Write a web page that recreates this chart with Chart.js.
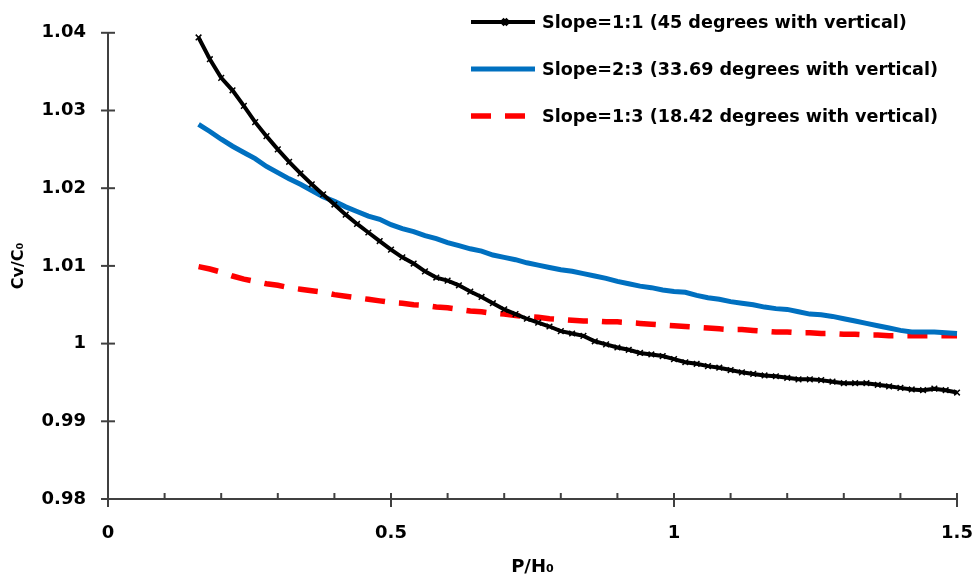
<!DOCTYPE html>
<html>
<head>
<meta charset="utf-8">
<script src="https://cdn.jsdelivr.net/npm/chart.js@4.4.1/dist/chart.umd.min.js"></script>
<style>
html,body{margin:0;padding:0;background:#fff;}
#wrap{width:973px;height:583px;position:relative;}
</style>
</head>
<body>
<div id="wrap"><canvas id="c"></canvas></div>
<script>
// ---- data ----
const pH = [0.16,0.18,0.20,0.22,0.24,0.26,0.28,0.30,0.32,0.34,0.36,0.38,0.40,0.42,0.44,0.46,0.48,0.50,
  0.52,0.54,0.56,0.58,0.60,0.62,0.64,0.66,0.68,0.70,0.72,0.74,0.76,0.78,0.80,0.82,0.84,0.86,0.88,0.90,
  0.92,0.94,0.96,0.98,1.00,1.02,1.04,1.06,1.08,1.10,1.12,1.14,1.16,1.18,1.20,1.22,1.24,1.26,1.28,1.30,
  1.32,1.34,1.36,1.38,1.40,1.42,1.44,1.46,1.48,1.50];

const slope11 = [1.0394,1.0366,1.0342,1.0326,1.0306,1.0285,1.0267,1.0250,1.0234,1.0219,1.0205,1.0192,1.0179,1.0166,1.0154,1.0143,1.0132,1.0121,
  1.0111,1.0103,1.0093,1.0085,1.0081,1.0075,1.0067,1.0060,1.0052,1.0044,1.0038,1.0032,1.0027,1.0022,1.0016,1.0013,1.0010,1.0003,0.9999,0.9995,
  0.9992,0.9988,0.9986,0.9984,0.9980,0.9976,0.9974,0.9971,0.9969,0.9966,0.9963,0.9961,0.9959,0.9958,0.9956,0.9954,0.9954,0.9953,0.9951,0.9949,
  0.9949,0.9949,0.9947,0.9945,0.9943,0.9941,0.9940,0.9942,0.9940,0.9937];

const slope23 = [1.0282,1.0273,1.0263,1.0254,1.0246,1.0238,1.0228,1.0220,1.0212,1.0205,1.0197,1.0189,1.0183,1.0176,1.0170,1.0164,1.0160,1.0153,
  1.0148,1.0144,1.0139,1.0135,1.0130,1.0126,1.0122,1.0119,1.0114,1.0111,1.0108,1.0104,1.0101,1.0098,1.0095,1.0093,1.0090,1.0087,1.0084,1.0080,
  1.0077,1.0074,1.0072,1.0069,1.0067,1.0066,1.0062,1.0059,1.0057,1.0054,1.0052,1.0050,1.0047,1.0045,1.0044,1.0041,1.0038,1.0037,1.0035,1.0032,
  1.0029,1.0026,1.0023,1.0020,1.0017,1.0015,1.0015,1.0015,1.0014,1.0013];

const slope13 = [1.0099,1.0096,1.0092,1.0087,1.0083,1.0080,1.0077,1.0075,1.0072,1.0070,1.0068,1.0066,1.0063,1.0061,1.0059,1.0057,1.0055,1.0053,
  1.0052,1.0050,1.0049,1.0047,1.0046,1.0044,1.0042,1.0041,1.0039,1.0038,1.0036,1.0035,1.0034,1.0032,1.0031,1.0030,1.0029,1.0029,1.0028,1.0028,
  1.0027,1.0026,1.0025,1.0024,1.0023,1.0022,1.0021,1.0020,1.0019,1.0018,1.0018,1.0017,1.0016,1.0015,1.0015,1.0014,1.0014,1.0013,1.0013,1.0012,
  1.0012,1.0011,1.0011,1.0010,1.0010,1.0010,1.0010,1.0010,1.0010,1.0010];

const seriesLabels = [
  'Slope=1:1 (45 degrees with vertical)',
  'Slope=2:3 (33.69 degrees with vertical)',
  'Slope=1:3 (18.42 degrees with vertical)'
];
const xTicks = [0, 0.5, 1, 1.5];
const xTickLabels = ['0', '0.5', '1', '1.5'];
const xMinorTicks = [0.1,0.2,0.3,0.4,0.6,0.7,0.8,0.9,1.1,1.2,1.3,1.4];
const yTicks = [0.98, 0.99, 1, 1.01, 1.02, 1.03, 1.04];
const yTickLabels = ['0.98', '0.99', '1', '1.01', '1.02', '1.03', '1.04'];
const xTitle = 'P/H\u2080';
const yTitle = 'Cv/C\u2080';

// ---- helpers ----
const FONT = "'DejaVu Sans', sans-serif";
const AXIS_COLOR = '#404040';
const toPts = ys => pH.map((x, i) => ({x: x, y: ys[i]}));

const axisTicksPlugin = {
  id: 'axisTicks',
  beforeDatasetsDraw(chart) {
    const {ctx, scales: {x, y}} = chart;
    ctx.save();
    ctx.strokeStyle = AXIS_COLOR;
    ctx.lineWidth = 2;
    const line = (x1, y1, x2, y2) => { ctx.beginPath(); ctx.moveTo(x1, y1); ctx.lineTo(x2, y2); ctx.stroke(); };
    const ax = x.left, ay = y.bottom;
    yTicks.forEach(v => { const py = y.getPixelForValue(v); line(ax - 7, py, ax + 7, py); });
    xMinorTicks.forEach(v => { const px = x.getPixelForValue(v); line(px, ay, px, ay - 6); });
    xTicks.forEach(v => { const px = x.getPixelForValue(v); line(px, ay - 6, px, ay + 8); });
    ctx.restore();
  }
};

const legendPlugin = {
  id: 'insideLegend',
  afterDraw(chart) {
    const ctx = chart.ctx;
    const rows = [22, 69, 116];
    const x1 = 471, x2 = 535, tx = 542;
    ctx.save();
    chart.data.datasets.forEach((ds, i) => {
      const yy = rows[i];
      ctx.strokeStyle = ds.borderColor;
      ctx.lineWidth = ds.borderWidth;
      ctx.setLineDash(ds.borderDash || []);
      ctx.lineCap = 'butt';
      ctx.beginPath();
      ctx.moveTo(x1, yy); ctx.lineTo(x2, yy); ctx.stroke();
      ctx.setLineDash([]);
      if (ds.pointRadius > 0) {
        Chart.helpers.drawPoint(ctx, {pointStyle: ds.pointStyle, rotation: 0, radius: ds.pointRadius, borderWidth: ds.pointBorderWidth}, (x1 + x2) / 2 + 2, yy);
      }
      ctx.fillStyle = '#000';
      ctx.font = "bold 17.6px " + FONT;
      ctx.textBaseline = 'middle';
      ctx.textAlign = 'left';
      ctx.fillText(ds.label, tx, yy + 1);
    });
    ctx.restore();
  }
};

const ctx = document.getElementById('c').getContext('2d');
new Chart(ctx, {
  type: 'line',
  data: {
    datasets: [
      {
        label: seriesLabels[0], data: toPts(slope11),
        borderColor: '#000000', backgroundColor: '#000000', borderWidth: 4,
        pointStyle: 'crossRot', pointRadius: 4, pointBorderWidth: 1.5,
        pointBorderColor: '#000000', pointBackgroundColor: '#000000',
        tension: 0, fill: false, clip: 10
      },
      {
        label: seriesLabels[1], data: toPts(slope23),
        borderColor: '#0070C0', backgroundColor: '#0070C0', borderWidth: 5,
        pointRadius: 0, tension: 0, fill: false, clip: 10
      },
      {
        label: seriesLabels[2], data: toPts(slope13),
        borderColor: '#FF0000', backgroundColor: '#FF0000', borderWidth: 5.5,
        borderDash: [20, 14], pointRadius: 0, tension: 0, fill: false, clip: 10
      }
    ]
  },
  options: {
    responsive: true,
    maintainAspectRatio: false,
    animation: false,
    devicePixelRatio: 1,
    layout: { padding: { top: 19, right: 0, left: 0, bottom: 0 } },
    plugins: { legend: { display: false }, tooltip: { enabled: false } },
    scales: {
      x: {
        type: 'linear', min: 0, max: 1.5,
        afterBuildTicks: s => { s.ticks = xTicks.map(v => ({value: v})); },
        afterFit: s => { s.height = 84; s.paddingRight = 16; s.paddingLeft = 0; },
        ticks: {
          padding: 24, color: '#000',
          font: { family: FONT, size: 18, weight: 'bold' },
          callback: v => { const i = xTicks.findIndex(t => Math.abs(t - v) < 1e-9); return i >= 0 ? xTickLabels[i] : ''; },
          maxRotation: 0, autoSkip: false
        },
        grid: { display: true, drawOnChartArea: false, drawTicks: false },
        border: { display: true, color: AXIS_COLOR, width: 2 },
        title: { display: true, text: xTitle, color: '#000', font: { family: FONT, size: 18, weight: 'bold' }, padding: { top: 0, bottom: 5 } }
      },
      y: {
        type: 'linear', min: 0.98, max: 1.04,
        afterBuildTicks: s => { s.ticks = yTicks.map(v => ({value: v})); },
        afterFit: s => { s.width = 108; },
        ticks: {
          padding: 22, color: '#000',
          font: { family: FONT, size: 18, weight: 'bold' },
          callback: v => { const i = yTicks.findIndex(t => Math.abs(t - v) < 1e-9); return i >= 0 ? yTickLabels[i] : ''; }
        },
        grid: { display: true, drawOnChartArea: false, drawTicks: false },
        border: { display: true, color: AXIS_COLOR, width: 2 },
        title: { display: true, text: yTitle, color: '#000', font: { family: FONT, size: 16, weight: 'bold' }, padding: { top: 9, bottom: 0 } }
      }
    }
  },
  plugins: [axisTicksPlugin, legendPlugin]
});
</script>
</body>
</html>
